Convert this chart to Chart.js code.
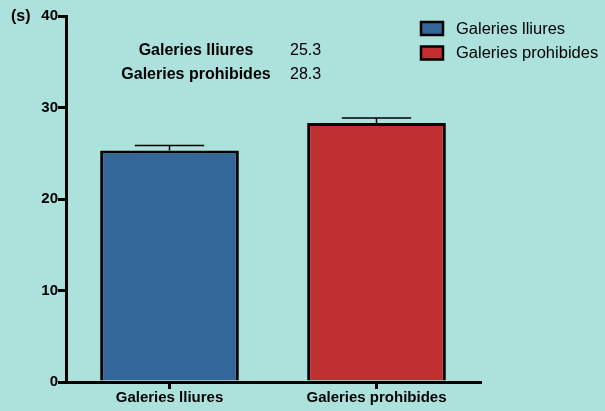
<!DOCTYPE html>
<html>
<head>
<meta charset="utf-8">
<script src="https://cdn.jsdelivr.net/npm/chart.js@4"></script>
<style>
  html, body { margin: 0; padding: 0; background: #ade1dc; }
  #wrap { width: 605px; height: 411px; position: relative; }
</style>
</head>
<body>
<div id="wrap"><canvas id="chart"></canvas></div>
<script>
// ---- data ----
const categories = ['Galeries lliures', 'Galeries prohibides'];
const means = [25.3, 28.3];
const errors = [0.55, 0.55];
const meanLabels = ['25.3', '28.3'];
const yTicks = [0, 10, 20, 30, 40];
const yTitle = '(s)';

const fills = ['#336699', '#c03030'];
const FONT = '"Liberation Sans", Arial, sans-serif';

// error bars (upper only) with a cap half the bar width
const errorBars = {
    id: 'errorBars',
    afterDatasetsDraw(chart) {
        const ctx = chart.ctx;
        const y = chart.scales.y;
        chart.getDatasetMeta(0).data.forEach((bar, i) => {
            const top = y.getPixelForValue(means[i] + errors[i]);
            const half = bar.width / 4;
            ctx.save();
            ctx.strokeStyle = '#000';
            ctx.lineWidth = 1.5;
            ctx.beginPath();
            ctx.moveTo(bar.x, bar.y);
            ctx.lineTo(bar.x, top);
            ctx.moveTo(bar.x - half, top);
            ctx.lineTo(bar.x + half, top);
            ctx.stroke();
            ctx.restore();
        });
    }
};

// mean table, legend and axis title
const extras = {
    id: 'extras',
    afterDraw(chart) {
        const ctx = chart.ctx;
        ctx.save();
        ctx.textBaseline = 'middle';
        ctx.fillStyle = '#000';

        // axis title
        ctx.font = 'bold 16px ' + FONT;
        ctx.textAlign = 'left';
        ctx.fillText(yTitle, 11, 17);

        // mean table
        categories.forEach((c, i) => {
            const ty = 51 + i * 24;
            ctx.font = 'bold 16px ' + FONT;
            ctx.textAlign = 'center';
            ctx.fillText(c, 196, ty);
            ctx.font = '16px ' + FONT;
            ctx.textAlign = 'left';
            ctx.fillText(meanLabels[i], 290, ty);
        });

        // legend
        categories.forEach((c, i) => {
            const ly = 22 + i * 24.5;
            ctx.fillStyle = fills[i];
            ctx.fillRect(421, ly, 22, 13);
            ctx.strokeStyle = '#000';
            ctx.lineWidth = 2.5;
            ctx.strokeRect(421, ly, 22, 13);
            ctx.fillStyle = '#000';
            ctx.font = '16.5px ' + FONT;
            ctx.textAlign = 'left';
            ctx.fillText(c, 456, ly + 7);
        });
        ctx.restore();
    }
};

new Chart(document.getElementById('chart'), {
    type: 'bar',
    data: {
        labels: categories,
        datasets: [{
            data: means,
            backgroundColor: fills,
            borderColor: '#000',
            borderWidth: 3,
            borderSkipped: 'start',
            barPercentage: 0.67,
            categoryPercentage: 1
        }]
    },
    options: {
        responsive: true,
        maintainAspectRatio: false,
        animation: false,
        layout: { padding: { left: 0, right: 125, top: 16, bottom: 0 } },
        plugins: {
            legend: { display: false },
            tooltip: { enabled: false }
        },
        scales: {
            y: {
                min: 0,
                max: 40,
                afterFit: s => { s.width = 66; },
                afterBuildTicks: s => { s.ticks = yTicks.map(v => ({ value: v })); },
                border: { color: '#000', width: 3 },
                grid: { drawOnChartArea: false, drawTicks: true, tickLength: 8, tickColor: '#000', lineWidth: 3 },
                ticks: { color: '#000', padding: 0, font: { family: FONT, size: 15, weight: 'bold' } }
            },
            x: {
                afterFit: s => { s.height = 29; },
                border: { color: '#000', width: 3 },
                grid: { offset: false, drawOnChartArea: false, drawTicks: true, tickLength: 7, tickColor: '#000', lineWidth: 3 },
                ticks: { color: '#000', padding: 0, font: { family: FONT, size: 15, weight: 'bold' } }
            }
        }
    },
    plugins: [errorBars, extras]
});
</script>
</body>
</html>
